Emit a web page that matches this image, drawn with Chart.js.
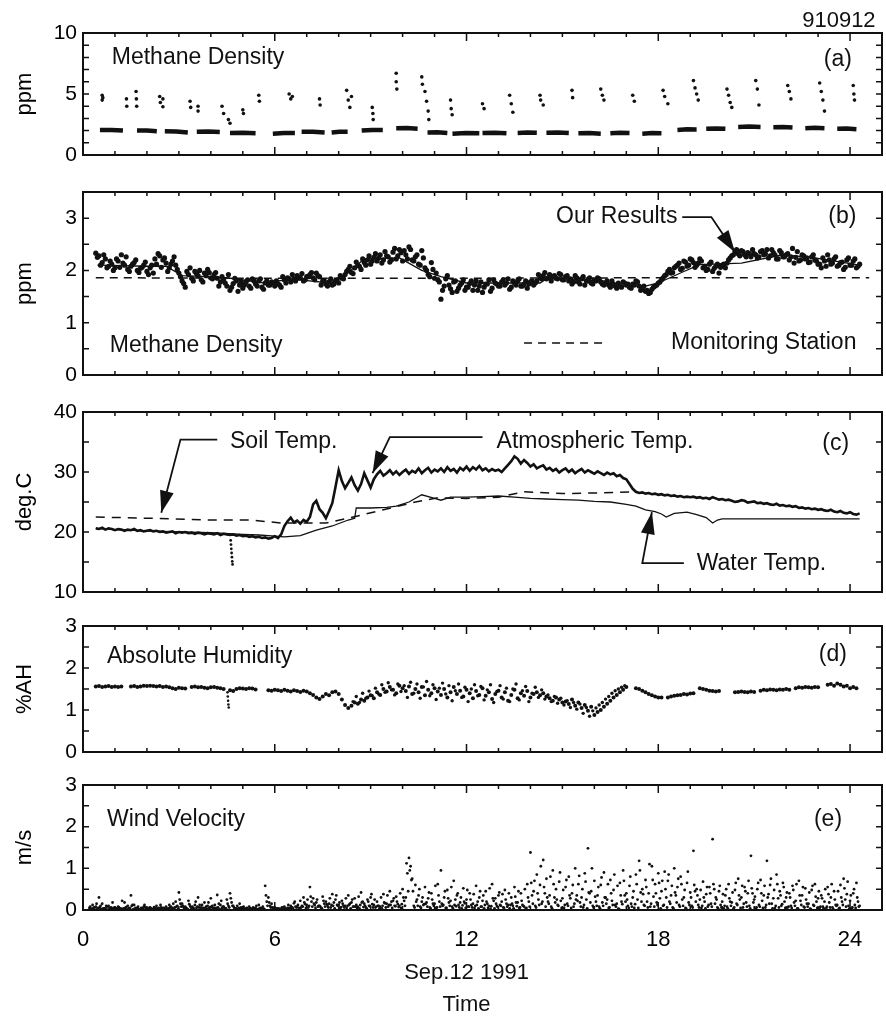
<!DOCTYPE html>
<html lang="en">
<head>
<meta charset="UTF-8">
<title>Methane Density - Sep.12 1991</title>
<script src="https://cdn.jsdelivr.net/npm/chart.js@4.4.1/dist/chart.umd.min.js"></script>
<style>
  body { margin: 0; background: #fff; }
  #wrap { position: relative; width: 886px; height: 1021px; }
  #wrap canvas { position: absolute; left: 0; top: 0; }
</style>
</head>
<body>
<div id="wrap">
  <canvas id="panelA" width="886" height="1021"></canvas>
  <canvas id="panelB" width="886" height="1021"></canvas>
  <canvas id="panelC" width="886" height="1021"></canvas>
  <canvas id="panelD" width="886" height="1021"></canvas>
  <canvas id="panelE" width="886" height="1021"></canvas>
</div>
<script>
// ===== data (time in hours of Sep.12 1991) =====
const hourTicks = [0, 6, 12, 18, 24];
const GRID_STEP = 0.1;   // sampling step of the gridded series, hours

// (a) raw methane: measuring dashes + calibration spikes
const dashStart = [0.53, 1.69, 2.56, 3.56, 4.6, 5.94, 6.84, 7.78, 8.72, 9.8, 10.78, 11.56, 12.5, 13.6, 14.5, 15.5, 16.5, 17.5, 18.6, 19.5, 20.5, 21.6, 22.6, 23.6];
const dashEnd   = [1.25, 2.31, 3.28, 4.28, 5.4, 6.63, 7.56, 8.28, 9.38, 10.47, 11.4, 12.4, 13.25, 14.2, 15.2, 16.2, 17.1, 18.1, 19.2, 20.1, 21.2, 22.2, 23.2, 24.2];
const dashFrom  = [2.05, 2.0, 1.95, 1.9, 1.8, 1.75, 1.9, 1.85, 2.0, 2.2, 1.85, 1.75, 1.8, 1.8, 1.82, 1.78, 1.78, 1.75, 2.05, 2.15, 2.3, 2.28, 2.2, 2.15];
const dashTo    = [2.0, 1.95, 1.85, 1.88, 1.78, 1.8, 1.85, 1.9, 2.05, 2.15, 1.8, 1.78, 1.78, 1.82, 1.8, 1.75, 1.8, 1.78, 2.1, 2.15, 2.3, 2.25, 2.2, 2.12];
const calTime = [0.6, 0.6, 0.62, 1.36, 1.37, 1.66, 1.67, 1.68, 2.4, 2.42, 2.5, 2.5, 3.35, 3.37, 3.6, 3.6,
  4.35, 4.4, 4.55, 4.6, 5.0, 5.02, 5.5, 5.52, 6.45, 6.5, 6.55, 7.4, 7.42, 8.25, 8.3, 8.35, 8.4,
  9.05, 9.07, 9.08, 9.8, 9.8, 9.82, 10.6, 10.62, 10.7, 10.75, 10.8, 10.82, 11.5, 11.52, 11.55,
  12.5, 12.55, 13.35, 13.4, 13.45, 14.3, 14.32, 14.4, 15.3, 15.32, 16.2, 16.25, 16.3, 17.2, 17.25,
  18.15, 18.2, 18.3, 19.1, 19.15, 19.2, 19.25, 20.15, 20.2, 20.25, 20.3, 21.05, 21.1, 21.15,
  22.05, 22.1, 22.15, 23.05, 23.1, 23.15, 23.2, 24.1, 24.12, 24.14];
const calPpm = [4.9, 4.5, 4.7, 4.6, 4.0, 5.2, 4.6, 4.0, 4.8, 4.3, 3.95, 4.6, 4.4, 3.9, 3.6, 4.0,
  4.0, 3.4, 2.9, 2.6, 3.7, 3.4, 4.9, 4.4, 5.0, 4.6, 4.8, 4.6, 4.1, 5.3, 4.5, 3.9, 4.8,
  3.9, 3.4, 2.9, 6.7, 6.0, 5.4, 6.4, 5.8, 5.2, 4.4, 3.6, 2.9, 4.5, 3.8, 3.3,
  4.2, 3.8, 4.9, 4.2, 3.5, 4.9, 4.5, 4.1, 5.3, 4.7, 5.4, 4.9, 4.5, 4.9, 4.4,
  5.3, 4.8, 4.2, 6.1, 5.5, 5.0, 4.5, 5.4, 4.9, 4.3, 3.9, 6.1, 5.4, 4.1,
  5.7, 5.2, 4.6, 5.9, 5.2, 4.5, 3.6, 5.7, 5.0, 4.5];

// (b) our results (two interleaved samples every 0.1 h), hourly trend, monitoring station
const methStart = 0.4;
const methPpm = [
  2.33, 2.28, 2.15, 2.22, 2.08, 2.12, 2.05,
  2.18, 2.30, 2.10, 2.02, 2.08, 2.15, 2.00, 2.04, 2.10, 1.98,
  2.05, 1.95, 2.12, 2.28, 2.20, 2.14, 2.05, 2.18, 2.10, 1.95,
  1.80, 1.68, 1.92, 1.85, 1.98, 1.90, 1.82, 1.95, 2.02, 1.86,
  1.92, 1.85, 1.78, 1.82, 1.70, 1.62, 1.75, 1.80, 1.72, 1.66,
  1.78, 1.70, 1.84, 1.74, 1.80, 1.68, 1.76, 1.72, 1.78, 1.70,
  1.75, 1.68, 1.82, 1.86, 1.78, 1.84, 1.90, 1.86, 1.80, 1.88,
  1.92, 1.86, 1.95, 1.88, 1.80, 1.74, 1.78, 1.72, 1.80, 1.76,
  1.85, 1.92, 2.02, 1.96, 2.05, 2.10, 2.02, 2.15, 2.20, 2.12,
  2.25, 2.18, 2.30, 2.20, 2.28, 2.16, 2.35, 2.22, 2.40, 2.18,
  2.30, 2.45, 2.20, 2.26, 2.12, 2.38, 2.05, 1.92, 2.15, 1.85,
  1.82, 1.45, 1.70, 1.90, 1.65, 1.78, 1.60, 1.72, 1.82, 1.68,
  1.75, 1.62, 1.80, 1.70, 1.58, 1.74, 1.82, 1.66, 1.76, 1.70,
  1.78, 1.72, 1.84, 1.68, 1.76, 1.80, 1.70, 1.74, 1.66, 1.78,
  1.72, 1.80, 1.86, 1.90, 1.84, 1.92, 1.88, 1.85, 1.94, 1.82,
  1.88, 1.80, 1.74, 1.90, 1.78, 1.84, 1.72, 1.80, 1.76, 1.82,
  1.86, 1.78, 1.72, 1.80, 1.68, 1.74, 1.66, 1.70, 1.78, 1.72,
  1.68, 1.74, 1.80, 1.70, 1.66, 1.60, 1.56, 1.64, 1.70, 1.76,
  1.82, 1.90, 1.98, 1.95, 2.05, 2.10, 2.02, 2.18, 2.08, 2.22,
  2.15, 2.10, 2.22, 2.05, 2.00, 2.12, 1.98, 2.08, 1.95, 2.10,
  2.05, 2.20, 2.28, 2.36, 2.32, 2.38, 2.30, 2.34, 2.26, 2.32,
  2.24, 2.36, 2.30, 2.40, 2.28, 2.34, 2.22, 2.38, 2.26, 2.30,
  2.20, 2.42, 2.25, 2.18, 2.30, 2.22, 2.15, 2.26, 2.20, 2.12,
  2.05, 2.18, 2.30, 2.12, 2.22, 2.08, 2.15, 2.02, 2.20, 2.10,
  2.18, 2.05, 2.12];
const methStart2 = 0.45;
const methPpm2 = [
  2.25, 2.10, 2.30, 2.05, 2.18, 2.00,
  2.22, 2.06, 2.14, 2.26, 1.98, 2.12, 2.20, 1.96, 2.06, 2.16,
  1.92, 2.10, 2.22, 2.32, 2.06, 2.24, 1.98, 2.12, 2.26, 2.02,
  1.88, 1.75, 1.98, 2.05, 1.80, 1.94, 2.00, 1.78, 1.90, 1.96,
  1.84, 1.96, 1.70, 1.88, 1.76, 1.92, 1.68, 1.85, 1.60, 1.78,
  1.72, 1.82, 1.66, 1.80, 1.70, 1.84, 1.64, 1.80, 1.72, 1.76,
  1.80, 1.72, 1.88, 1.76, 1.84, 1.92, 1.80, 1.86, 1.94, 1.82,
  1.88, 1.96, 1.82, 1.90, 1.72, 1.80, 1.70, 1.84, 1.74, 1.82,
  1.90, 1.84, 1.98, 2.08, 1.94, 2.16, 2.08, 2.22, 2.10, 2.28,
  2.18, 2.32, 2.24, 2.14, 2.36, 2.26, 2.20, 2.42, 2.28, 2.34,
  2.38, 2.22, 2.40, 2.18, 2.30, 2.10, 2.24, 2.00, 1.88, 2.02,
  1.95, 1.78, 1.62, 1.84, 1.72, 1.58, 1.80, 1.66, 1.76, 1.62,
  1.68, 1.80, 1.72, 1.62, 1.78, 1.68, 1.74, 1.60, 1.82, 1.74,
  1.70, 1.82, 1.76, 1.64, 1.80, 1.72, 1.84, 1.70, 1.80, 1.74,
  1.80, 1.76, 1.92, 1.84, 1.96, 1.86, 1.80, 1.90, 1.84, 1.92,
  1.82, 1.90, 1.84, 1.78, 1.86, 1.74, 1.88, 1.80, 1.86, 1.74,
  1.80, 1.84, 1.74, 1.76, 1.72, 1.80, 1.70, 1.76, 1.68, 1.76,
  1.74, 1.66, 1.72, 1.78, 1.62, 1.70, 1.62, 1.58, 1.68, 1.72,
  1.78, 1.86, 1.92, 2.02, 1.96, 2.08, 2.14, 2.04, 2.16, 2.10,
  2.20, 2.06, 2.14, 2.18, 2.08, 2.02, 2.16, 2.04, 2.12, 2.06,
  2.12, 2.14, 2.24, 2.30, 2.40, 2.28, 2.36, 2.26, 2.32, 2.40,
  2.30, 2.26, 2.38, 2.32, 2.24, 2.40, 2.30, 2.22, 2.34, 2.26,
  2.32, 2.26, 2.14, 2.36, 2.20, 2.28, 2.24, 2.16, 2.30, 2.18,
  2.12, 2.24, 2.08, 2.20, 2.14, 2.26, 2.10, 2.16, 2.06, 2.24,
  2.10, 2.22, 2.08];
const trendTime = [0.45, 2.0, 2.6, 3.1, 3.9, 4.5, 5.7, 6.0, 6.8, 7.7, 8.3, 8.8, 9.9, 10.6, 11.2, 12.0, 14.3, 14.6, 15.4, 16.3, 16.7, 17.6, 18.0, 18.8, 19.3, 20.6, 21.9, 22.9, 24.3];
const trendPpm  = [2.10, 2.08, 2.08, 1.90, 1.88, 1.86, 1.76, 1.80, 1.82, 1.76, 1.96, 2.22, 2.24, 2.00, 1.88, 1.76, 1.76, 1.88, 1.82, 1.80, 1.71, 1.70, 1.76, 1.98, 2.11, 2.14, 2.30, 2.24, 2.10];
const stationTime = [0.4, 6, 12, 18, 24.6];
const stationPpm  = [1.86, 1.85, 1.85, 1.86, 1.86];

// (c) temperatures
const atmStart = 0.4;
const atmTemp = [
  20.6, 20.5, 20.7, 20.4, 20.6, 20.5, 20.3,
  20.5, 20.4, 20.2, 20.4, 20.3, 20.5, 20.2, 20.3, 20.1, 20.2,
  20.3, 20.1, 20.2, 20.0, 20.1, 19.9, 20.0, 20.1, 19.8, 20.0,
  19.9, 20.0, 19.8, 19.9, 19.7, 19.9, 19.8, 19.6, 19.8, 19.7,
  19.6, 19.8, 19.5, 19.7, 19.6, 19.5, 19.6, 19.4, 19.5, 19.3,
  19.4, 19.2, 19.3, 19.1, 19.2, 19.0, 19.1, 18.9, 19.0, 19.3,
  19.0, 19.6, 21.0, 21.8, 22.4, 21.6, 21.9, 21.4, 22.0, 21.7,
  22.5, 24.6, 25.2, 23.8, 23.2, 22.3, 23.5, 24.8, 27.5, 30.3,
  28.5, 27.3, 28.2, 29.1, 27.8, 26.9, 28.0, 29.8, 28.6, 27.4,
  28.8, 29.6, 30.2, 29.4, 29.8, 30.3, 29.6, 30.1, 29.5, 30.0,
  30.4, 29.7, 30.2, 29.9, 30.6, 29.8, 30.3, 30.7, 29.9, 30.4,
  30.1, 30.6, 30.0, 30.8, 30.2, 30.5, 29.9, 30.7, 30.3, 30.9,
  30.2, 30.8, 30.4, 31.0, 30.3, 30.6, 30.1, 30.5, 30.2, 30.4,
  30.0, 30.6, 31.2, 31.8, 32.6, 32.2, 31.4, 32.0, 31.5, 30.9,
  31.3, 30.6, 30.9, 31.1, 30.4, 30.7, 30.2, 30.5, 29.9, 30.3,
  30.6, 30.0, 30.4, 29.8, 30.2, 30.5, 29.9, 30.3, 30.0, 29.7,
  30.1, 29.8, 29.5, 29.9, 29.6, 29.8, 29.3, 29.5, 29.0, 28.8,
  28.0, 27.2, 26.7, 26.5, 26.6, 26.4, 26.5, 26.3, 26.4, 26.2,
  26.3, 26.1, 26.2, 26.0, 26.1, 25.9, 26.0, 25.8, 25.9, 25.8,
  25.9, 25.7, 25.8, 25.6, 25.7, 25.5, 25.8, 25.6, 25.4, 25.5,
  25.3, 25.4, 25.2, 25.0, 25.1, 25.3, 25.2, 24.9, 25.0, 25.1,
  24.8, 24.9, 24.7, 24.8, 24.6, 24.5, 24.7, 24.4, 24.5, 24.3,
  24.4, 24.2, 24.3, 24.0, 24.1, 23.9, 24.0, 23.8, 23.9, 23.7,
  23.8, 23.6, 23.5, 23.7, 23.4, 23.3, 23.5, 23.2, 23.1, 23.3,
  23.0, 22.9, 23.1];
const atmSpikeTime = [4.62, 4.63, 4.64, 4.65, 4.66, 4.67, 4.68];
const atmSpikeTemp = [18.6, 17.9, 17.2, 16.5, 15.8, 15.1, 14.6];
const waterTime = [0.4, 1, 2, 3, 4, 5, 5.5, 6, 6.3, 6.8, 7.3, 7.8, 8.3, 8.5, 8.55, 9.0, 9.5, 9.8, 10.2, 10.6, 11.0, 11.2, 11.5, 12, 12.5, 13, 13.5, 14, 14.5, 15, 15.5, 16, 16.5, 17.0, 17.3, 17.6, 17.9, 18.1, 18.25, 18.5, 18.9, 19.2, 19.5, 19.7, 19.85, 20.0, 21, 22, 23, 24.3];
const waterTemp = [20.6, 20.4, 20.2, 20.0, 19.9, 19.6, 19.5, 19.3, 19.2, 19.4, 20.3, 21.0, 22.0, 22.3, 24.0, 24.0, 24.1, 24.3, 25.0, 26.2, 25.6, 25.3, 25.8, 25.8, 25.9, 26.0, 25.8, 25.6, 25.5, 25.4, 25.3, 25.1, 25.0, 24.6, 24.3, 23.7, 23.4, 23.0, 22.5, 23.1, 23.3, 22.9, 22.4, 21.5, 22.0, 22.2, 22.2, 22.2, 22.2, 22.2];
const soilTime = [0.4, 2, 4, 5.2, 6.2, 7.6, 8.3, 9.4, 10.4, 11.1, 12, 13, 13.8, 15, 16, 17.2];
const soilTemp = [22.5, 22.3, 22.0, 22.0, 21.5, 21.5, 22.3, 23.7, 25.0, 25.7, 25.6, 25.8, 26.7, 26.4, 26.5, 26.7];

// (d) absolute humidity (every 0.1 h from 0.4 h) + extra scatter 8.45-16.95 h
const humStart = 0.4;
const humidity = [
  1.56, 1.57, 1.55, 1.56, 1.57, 1.55, 1.56,
  1.55, 1.56, null, null, 1.56, 1.57, 1.55, 1.56, 1.58, 1.57,
  1.58, 1.57, 1.56, 1.57, 1.55, 1.56, 1.54, 1.52, 1.50, 1.53,
  1.52, 1.51, null, 1.55, 1.56, 1.54, 1.55, 1.53, 1.52, 1.54,
  1.55, 1.53, 1.52, 1.50, null, 1.47, 1.45, 1.50, 1.52, 1.51,
  1.50, 1.52, 1.51, 1.49, null, null, null, 1.47, 1.46, 1.48,
  1.47, 1.45, 1.48, 1.46, 1.44, 1.47, 1.45, 1.43, 1.46, 1.44,
  1.40, 1.36, 1.30, 1.26, 1.32, 1.38, 1.35, 1.42, 1.44, 1.38,
  1.25, 1.12, 1.05, 1.10, 1.18, 1.15, 1.25, 1.22, 1.30, 1.35,
  1.28, 1.42, 1.36, 1.50, 1.44, 1.55, 1.48, 1.40, 1.58, 1.52,
  1.45, 1.56, 1.38, 1.50, 1.42, 1.55, 1.35, 1.48, 1.40, 1.52,
  1.44, 1.36, 1.50, 1.30, 1.42, 1.55, 1.38, 1.46, 1.32, 1.48,
  1.40, 1.28, 1.45, 1.36, 1.52, 1.34, 1.42, 1.26, 1.38, 1.46,
  1.30, 1.42, 1.22, 1.36, 1.48, 1.28, 1.40, 1.34, 1.45, 1.30,
  1.38, 1.42, 1.35, 1.40, 1.32, 1.28, 1.22, 1.30, 1.25, 1.18,
  1.20, 1.14, 1.25, 1.10, 1.18, 1.05, 1.12, 0.98, 1.08, 0.88,
  0.95, 1.00, 1.08, 1.15, 1.22, 1.30, 1.36, 1.42, 1.48, 1.55,
  null, null, 1.52, 1.50, 1.46, 1.42, 1.38, 1.35, 1.32, 1.30,
  1.30, null, 1.30, 1.32, 1.34, 1.35, 1.36, 1.38, 1.37, 1.39,
  1.40, null, 1.52, 1.50, 1.48, 1.46, 1.45, 1.44, 1.45, null,
  null, null, null, 1.42, 1.43, 1.44, 1.43, 1.42, 1.44, 1.43,
  null, 1.46, 1.48, 1.47, 1.49, 1.48, 1.47, 1.49, 1.48, 1.50,
  1.48, null, 1.52, 1.54, 1.53, 1.55, 1.54, 1.53, 1.55, 1.54,
  null, null, 1.60, 1.62, 1.58, 1.63, 1.60, 1.56, 1.58, 1.52,
  1.55, 1.52, null];
const humSpreadStart = 8.45;
const humiditySpread = [
  1.20, 1.32, 1.18, 1.40, 1.28, 1.45, 1.34, 1.52, 1.38, 1.60,
  1.42, 1.65, 1.48, 1.36, 1.62, 1.44, 1.58, 1.30, 1.66, 1.40,
  1.62, 1.28, 1.55, 1.68, 1.34, 1.60, 1.25, 1.52, 1.64, 1.38,
  1.58, 1.22, 1.46, 1.62, 1.30, 1.54, 1.20, 1.50, 1.60, 1.34,
  1.56, 1.24, 1.48, 1.60, 1.18, 1.44, 1.58, 1.26, 1.52, 1.20,
  1.50, 1.62, 1.24, 1.46, 1.56, 1.20, 1.40, 1.54, 1.30, 1.48,
  1.26, 1.36, 1.20, 1.32, 1.16, 1.28, 1.12, 1.22, 1.06, 1.18,
  1.02, 1.14, 0.92, 1.06, 0.85, 0.98, 1.05, 1.12, 1.18, 1.26,
  1.32, 1.40, 1.46, 1.50, 1.54, 1.58];
const humDipTime = [4.52, 4.53, 4.54, 4.55, 4.56];
const humDipValue = [1.42, 1.32, 1.22, 1.13, 1.06];

// (e) wind velocity, four interleaved samples (starts 0.2, 0.225, 0.25, 0.275 h, each every 0.1 h)
const windStartA = 0.2;
const windA = [
  0.05, 0.12, 0.08, 0.30, 0.15, 0.04, 0.10, 0.02, 0.06,
  0.08, 0.03, 0.18, 0.10, 0.35, 0.12, 0.05, 0.02, 0.08, 0.04,
  0.06, 0.02, 0.10, 0.04, 0.03, 0.08, 0.12, 0.05, 0.20, 0.42,
  0.15, 0.08, 0.22, 0.05, 0.12, 0.30, 0.06, 0.18, 0.10, 0.28,
  0.05, 0.36, 0.12, 0.08, 0.25, 0.40, 0.10, 0.04, 0.15, 0.06,
  0.03, 0.08, 0.02, 0.05, 0.12, 0.04, 0.58, 0.30, 0.15, 0.06,
  0.04, 0.02, 0.08, 0.05, 0.10, 0.16, 0.08, 0.22, 0.30, 0.12,
  0.55, 0.28, 0.18, 0.10, 0.32, 0.20, 0.15, 0.38, 0.25, 0.12,
  0.22, 0.10, 0.35, 0.18, 0.28, 0.08, 0.42, 0.15, 0.25, 0.30,
  0.12, 0.20, 0.08, 0.38, 0.15, 0.45, 0.22, 0.32, 0.10, 0.50,
  0.30, 1.25, 0.75, 0.60, 0.35, 0.20, 0.55, 0.28, 0.40, 0.15,
  0.62, 0.95, 0.30, 0.48, 0.22, 0.70, 0.35, 0.18, 0.52, 0.25,
  0.40, 0.15, 0.58, 0.30, 0.22, 0.45, 0.10, 0.62, 0.28, 0.35,
  0.20, 0.48, 0.12, 0.30, 0.55, 0.18, 0.40, 0.08, 0.62, 1.38,
  0.45, 0.85, 0.60, 1.20, 0.75, 0.35, 0.95, 0.50, 0.68, 0.28,
  0.55, 0.80, 0.40, 1.00, 0.62, 0.30, 0.88, 1.48, 0.45, 0.70,
  0.35, 0.60, 0.90, 0.25, 0.72, 0.48, 0.15, 0.65, 0.95, 0.40,
  0.58, 0.30, 0.85, 1.18, 0.50, 0.72, 0.40, 1.05, 0.62, 0.88,
  0.45, 0.92, 0.70, 0.35, 1.00, 0.55, 0.80, 0.30, 0.65, 0.42,
  1.42, 0.50, 0.25, 0.68, 0.38, 0.55, 1.70, 0.30, 0.45, 0.20,
  0.35, 0.62, 0.18, 0.48, 0.75, 0.30, 0.55, 0.40, 1.30, 0.25,
  0.50, 0.72, 0.35, 1.18, 0.60, 0.28, 0.85, 0.45, 0.65, 0.30,
  0.40, 0.58, 0.22, 0.70, 0.35, 0.52, 0.15, 0.48, 0.62, 0.28,
  0.35, 0.20, 0.55, 0.30, 0.45, 0.12, 0.60, 0.75, 0.38, 0.22,
  0.40, 0.65, 0.10];
const windStartB = 0.25;
const windB = [
  0.02, 0.06, 0.03, 0.10, 0.04, 0.08, 0.02, 0.05, 0.03,
  0.04, 0.02, 0.07, 0.03, 0.12, 0.05, 0.02, 0.04, 0.06, 0.02,
  0.03, 0.05, 0.02, 0.06, 0.04, 0.02, 0.08, 0.03, 0.10, 0.15,
  0.06, 0.03, 0.10, 0.04, 0.05, 0.12, 0.03, 0.08, 0.05, 0.10,
  0.03, 0.15, 0.05, 0.03, 0.10, 0.18, 0.04, 0.02, 0.06, 0.03,
  0.02, 0.04, 0.03, 0.02, 0.05, 0.03, 0.20, 0.10, 0.05, 0.03,
  0.03, 0.05, 0.02, 0.04, 0.06, 0.08, 0.05, 0.10, 0.14, 0.06,
  0.20, 0.12, 0.08, 0.05, 0.15, 0.10, 0.06, 0.18, 0.12, 0.05,
  0.10, 0.05, 0.15, 0.08, 0.12, 0.04, 0.20, 0.06, 0.10, 0.14,
  0.06, 0.10, 0.04, 0.16, 0.08, 0.20, 0.10, 0.14, 0.05, 0.22,
  0.88, 1.05, 0.10, 0.25, 0.08, 0.12, 0.18, 0.06, 0.15, 0.05,
  0.20, 0.10, 0.05, 0.18, 0.08, 0.25, 0.12, 0.04, 0.16, 0.08,
  0.12, 0.05, 0.20, 0.08, 0.04, 0.15, 0.03, 0.22, 0.10, 0.12,
  0.06, 0.15, 0.04, 0.10, 0.18, 0.05, 0.12, 0.03, 0.20, 0.35,
  0.10, 0.25, 0.15, 0.40, 0.20, 0.08, 0.30, 0.12, 0.22, 0.05,
  0.15, 0.28, 0.08, 0.35, 0.18, 0.06, 0.25, 0.40, 0.10, 0.20,
  0.08, 0.18, 0.30, 0.05, 0.22, 0.12, 0.03, 0.20, 0.35, 0.10,
  0.15, 0.05, 0.25, 0.42, 0.12, 0.20, 0.08, 0.32, 0.18, 0.28,
  0.10, 0.30, 0.20, 0.06, 0.35, 0.12, 0.25, 0.05, 0.18, 0.10,
  0.45, 0.12, 0.05, 0.20, 0.08, 0.15, 0.50, 0.06, 0.12, 0.04,
  0.08, 0.20, 0.03, 0.15, 0.25, 0.06, 0.18, 0.10, 0.40, 0.05,
  0.12, 0.22, 0.06, 0.38, 0.15, 0.05, 0.28, 0.10, 0.20, 0.06,
  0.10, 0.18, 0.04, 0.22, 0.08, 0.15, 0.03, 0.12, 0.20, 0.05,
  0.08, 0.04, 0.18, 0.06, 0.12, 0.03, 0.20, 0.25, 0.10, 0.05,
  0.12, 0.20];
const windStartC = 0.225;
const windC = [
  0.08, 0.04, 0.15, 0.06, 0.03, 0.10, 0.05, 0.18, 0.04,
  0.06, 0.22, 0.05, 0.04, 0.10, 0.03, 0.08, 0.05, 0.12, 0.04,
  0.03, 0.07, 0.04, 0.12, 0.05, 0.03, 0.06, 0.15, 0.08, 0.25,
  0.10, 0.05, 0.14, 0.08, 0.20, 0.06, 0.12, 0.04, 0.18, 0.08,
  0.12, 0.06, 0.22, 0.05, 0.15, 0.28, 0.06, 0.10, 0.04, 0.08,
  0.05, 0.03, 0.06, 0.10, 0.04, 0.08, 0.35, 0.18, 0.06, 0.04,
  0.02, 0.06, 0.04, 0.12, 0.05, 0.20, 0.12, 0.06, 0.18, 0.25,
  0.32, 0.15, 0.25, 0.08, 0.22, 0.14, 0.28, 0.10, 0.35, 0.18,
  0.15, 0.28, 0.12, 0.25, 0.08, 0.32, 0.18, 0.10, 0.20, 0.38,
  0.25, 0.10, 0.30, 0.18, 0.35, 0.12, 0.28, 0.20, 0.40, 0.30,
  1.12, 0.95, 0.45, 0.20, 0.50, 0.30, 0.15, 0.42, 0.25, 0.58,
  0.35, 0.15, 0.45, 0.28, 0.55, 0.12, 0.40, 0.30, 0.20, 0.48,
  0.25, 0.38, 0.12, 0.45, 0.35, 0.20, 0.52, 0.28, 0.15, 0.42,
  0.38, 0.25, 0.40, 0.15, 0.32, 0.45, 0.22, 0.50, 0.30, 0.65,
  0.70, 0.40, 1.05, 0.55, 0.30, 0.80, 0.62, 0.25, 0.90, 0.48,
  0.72, 0.35, 0.60, 0.25, 0.82, 0.50, 0.68, 0.42, 1.00, 0.32,
  0.55, 0.78, 0.30, 0.62, 0.40, 0.85, 0.58, 0.35, 0.70, 0.25,
  0.80, 0.45, 0.62, 0.95, 0.38, 0.55, 1.10, 0.72, 0.40, 0.65,
  0.70, 0.50, 0.85, 0.58, 0.42, 0.75, 0.62, 0.48, 0.92, 0.30,
  0.60, 0.35, 0.48, 0.30, 0.55, 0.40, 0.62, 0.25, 0.58, 0.38,
  0.50, 0.28, 0.42, 0.65, 0.35, 0.58, 0.45, 0.70, 0.52, 0.32,
  0.65, 0.40, 0.58, 0.30, 0.75, 0.48, 0.62, 0.35, 0.55, 0.42,
  0.30, 0.48, 0.62, 0.35, 0.55, 0.25, 0.42, 0.58, 0.32, 0.45,
  0.28, 0.50, 0.38, 0.62, 0.25, 0.45, 0.30, 0.52, 0.68, 0.35,
  0.50, 0.30];
const windStartD = 0.275;
const windD = [
  0.03, 0.01, 0.05, 0.02, 0.04, 0.01, 0.06, 0.02, 0.03,
  0.02, 0.04, 0.01, 0.05, 0.02, 0.03, 0.01, 0.04, 0.02, 0.05,
  0.01, 0.03, 0.05, 0.02, 0.01, 0.04, 0.02, 0.06, 0.03, 0.08,
  0.04, 0.02, 0.06, 0.03, 0.08, 0.02, 0.05, 0.03, 0.07, 0.04,
  0.05, 0.02, 0.08, 0.04, 0.06, 0.10, 0.02, 0.05, 0.03, 0.02,
  0.01, 0.02, 0.04, 0.01, 0.03, 0.02, 0.10, 0.06, 0.03, 0.02,
  0.01, 0.03, 0.02, 0.05, 0.03, 0.06, 0.04, 0.08, 0.05, 0.10,
  0.08, 0.05, 0.10, 0.04, 0.08, 0.06, 0.12, 0.04, 0.10, 0.07,
  0.06, 0.10, 0.04, 0.08, 0.05, 0.12, 0.07, 0.04, 0.09, 0.06,
  0.08, 0.04, 0.10, 0.06, 0.12, 0.05, 0.09, 0.07, 0.14, 0.10,
  0.45, 0.72, 0.06, 0.10, 0.05, 0.14, 0.08, 0.04, 0.10, 0.06,
  0.08, 0.12, 0.05, 0.10, 0.04, 0.09, 0.06, 0.11, 0.05, 0.08,
  0.06, 0.10, 0.04, 0.08, 0.12, 0.05, 0.09, 0.04, 0.07, 0.10,
  0.05, 0.08, 0.12, 0.04, 0.09, 0.06, 0.10, 0.05, 0.08, 0.15,
  0.06, 0.12, 0.20, 0.08, 0.15, 0.04, 0.18, 0.10, 0.05, 0.12,
  0.10, 0.05, 0.15, 0.22, 0.08, 0.12, 0.04, 0.18, 0.06, 0.10,
  0.04, 0.10, 0.15, 0.06, 0.12, 0.08, 0.02, 0.14, 0.20, 0.05,
  0.08, 0.14, 0.05, 0.20, 0.10, 0.06, 0.15, 0.08, 0.12, 0.04,
  0.12, 0.06, 0.15, 0.04, 0.18, 0.08, 0.10, 0.03, 0.12, 0.06,
  0.20, 0.06, 0.10, 0.04, 0.12, 0.08, 0.15, 0.03, 0.06, 0.10,
  0.04, 0.10, 0.06, 0.12, 0.05, 0.15, 0.08, 0.04, 0.18, 0.06,
  0.08, 0.05, 0.12, 0.15, 0.04, 0.10, 0.06, 0.14, 0.05, 0.08,
  0.05, 0.10, 0.03, 0.12, 0.06, 0.08, 0.02, 0.10, 0.05, 0.08,
  0.04, 0.08, 0.06, 0.02, 0.10, 0.05, 0.12, 0.08, 0.03, 0.06,
  0.05, 0.08];

// ===== helpers =====
const W = 886, H = 1021;
const INK = '#111';
const FONT = '"Liberation Sans", Arial, Helvetica, sans-serif';
Chart.defaults.font.family = FONT;
Chart.defaults.color = '#000';

function gridPoints(start, values) {
  return values.map((v, i) => ({ x: Math.round((start + i * GRID_STEP) * 1000) / 1000, y: v }));
}
function pairPoints(xs, ys) {
  return xs.map((x, i) => ({ x: x, y: ys[i] }));
}
function dashPoints() {
  const pts = [];
  dashStart.forEach((s, i) => {
    pts.push({ x: s, y: dashFrom[i] }, { x: (s + dashEnd[i]) / 2, y: (dashFrom[i] + dashTo[i]) / 2 + 0.03 },
             { x: dashEnd[i], y: dashTo[i] }, { x: dashEnd[i] + 0.01, y: null });
  });
  return pts;
}
function dots(data, r) {
  return { data: data, showLine: false, pointRadius: r, pointBackgroundColor: INK, pointBorderWidth: 0 };
}
function line(data, w, dash) {
  return { data: data, showLine: true, pointRadius: 0, borderColor: INK, borderWidth: w,
           borderDash: dash || [], spanGaps: false, tension: 0 };
}

// frame with inward ticks, labels and arrows
const framePlugin = {
  id: 'frame',
  afterDraw(chart, args, opts) {
    const { ctx, chartArea: a, scales: { x, y } } = chart;
    ctx.save();
    ctx.strokeStyle = INK;
    ctx.fillStyle = INK;
    ctx.lineWidth = 2;
    ctx.strokeRect(a.left, a.top, a.right - a.left, a.bottom - a.top);
    ctx.lineWidth = 1.5;
    ctx.beginPath();
    for (let h = 1; h < 25; h++) {
      const px = x.getPixelForValue(h);
      const len = h % 6 === 0 ? 8 : 4;
      ctx.moveTo(px, a.top); ctx.lineTo(px, a.top + len);
      ctx.moveTo(px, a.bottom); ctx.lineTo(px, a.bottom - len);
    }
    const n = Math.round((y.max - y.min) / opts.minor);
    for (let k = 1; k < n; k++) {
      const py = y.getPixelForValue(y.min + k * opts.minor);
      ctx.moveTo(a.left, py); ctx.lineTo(a.left + 6, py);
      ctx.moveTo(a.right, py); ctx.lineTo(a.right - 6, py);
    }
    ctx.stroke();

    ctx.textBaseline = 'middle';
    (opts.texts || []).forEach(t => {
      ctx.font = (t.size || 23) + 'px ' + FONT;
      ctx.textAlign = t.align || 'left';
      ctx.fillText(t.text, x.getPixelForValue(t.x), y.getPixelForValue(t.y));
    });
    (opts.lines || []).forEach(l => {
      ctx.lineWidth = 1.5;
      ctx.setLineDash(l.dash);
      ctx.beginPath();
      ctx.moveTo(x.getPixelForValue(l.from[0]), y.getPixelForValue(l.from[1]));
      ctx.lineTo(x.getPixelForValue(l.to[0]), y.getPixelForValue(l.to[1]));
      ctx.stroke();
      ctx.setLineDash([]);
    });
    (opts.arrows || []).forEach(ar => {
      const pts = ar.map(p => [x.getPixelForValue(p[0]), y.getPixelForValue(p[1])]);
      ctx.lineWidth = 1.8;
      ctx.beginPath();
      ctx.moveTo(pts[0][0], pts[0][1]);
      pts.slice(1).forEach(p => ctx.lineTo(p[0], p[1]));
      ctx.stroke();
      const [tx, ty] = pts[pts.length - 1];
      const [px, py] = pts[pts.length - 2];
      const ang = Math.atan2(ty - py, tx - px);
      const L = 22, hw = 7, c = Math.cos(ang), s = Math.sin(ang);
      ctx.beginPath();
      ctx.moveTo(tx, ty);
      ctx.lineTo(tx - L * c + hw * s, ty - L * s - hw * c);
      ctx.lineTo(tx - L * c - hw * s, ty - L * s + hw * c);
      ctx.closePath();
      ctx.fill();
    });
    ctx.restore();
  }
};

function makePanel(id, cfg) {
  const showX = !!cfg.showX;
  return new Chart(document.getElementById(id), {
    type: 'scatter',
    data: { datasets: cfg.datasets },
    options: {
      responsive: false,
      animation: false,
      devicePixelRatio: 1,
      events: [],
      layout: { padding: { left: 0, right: W - 883, top: cfg.top, bottom: showX ? 0 : H - cfg.bottom } },
      scales: {
        x: {
          type: 'linear', min: 0, max: 25, display: showX,
          afterBuildTicks: s => { s.ticks = hourTicks.map(v => ({ value: v })); },
          afterFit: s => { s.height = showX ? H - cfg.bottom : 0; },
          ticks: { padding: 17, font: { size: 22 }, color: '#000' },
          grid: { display: false, drawTicks: false },
          border: { display: false }
        },
        y: {
          min: cfg.yMin, max: cfg.yMax,
          afterBuildTicks: s => { s.ticks = cfg.yTicks.map(v => ({ value: v })); },
          afterFit: s => { s.width = 83; },
          ticks: { padding: 6, font: { size: 21 }, color: '#000' },
          grid: { display: false, drawTicks: false },
          border: { display: false },
          title: { display: true, text: cfg.yTitle, font: { size: 22 }, color: '#000', padding: { top: 12, bottom: 0 } }
        }
      },
      plugins: {
        legend: { display: false },
        tooltip: { enabled: false },
        frame: { minor: cfg.minor, texts: cfg.texts, arrows: cfg.arrows, lines: cfg.lines }
      }
    },
    plugins: [framePlugin]
  });
}

// ===== panels =====
makePanel('panelA', {
  top: 33, bottom: 155, yMin: 0, yMax: 10, yTicks: [0, 5, 10], minor: 1, yTitle: 'ppm',
  datasets: [line(dashPoints(), 4.5), dots(pairPoints(calTime, calPpm), 1.8)],
  texts: [
    { text: 'Methane Density', x: 0.9, y: 8.0 },
    { text: '(a)', x: 24.06, y: 7.8, align: 'right' },
    { text: '910912', x: 24.8, y: 11.0, align: 'right', size: 22 }
  ]
});

makePanel('panelB', {
  top: 192, bottom: 375, yMin: 0, yMax: 3.5, yTicks: [0, 1, 2, 3], minor: 0.5, yTitle: 'ppm',
  datasets: [
    dots(gridPoints(methStart, methPpm), 2.6),
    dots(gridPoints(methStart2, methPpm2), 2.6),
    line(pairPoints(trendTime, trendPpm), 1.3),
    line(pairPoints(stationTime, stationPpm), 1.5, [8, 6])
  ],
  texts: [
    { text: 'Our Results', x: 18.6, y: 3.02, align: 'right' },
    { text: '(b)', x: 24.2, y: 3.02, align: 'right' },
    { text: 'Methane Density', x: 0.84, y: 0.57 },
    { text: 'Monitoring Station', x: 24.2, y: 0.61, align: 'right' }
  ],
  lines: [{ from: [13.8, 0.61], to: [16.4, 0.61], dash: [8, 6] }],
  arrows: [[[18.75, 3.02], [19.66, 3.02], [20.4, 2.35]]]
});

makePanel('panelC', {
  top: 412, bottom: 592, yMin: 10, yMax: 40, yTicks: [10, 20, 30, 40], minor: 5, yTitle: 'deg.C',
  datasets: [
    line(gridPoints(atmStart, atmTemp), 2.6),
    dots(pairPoints(atmSpikeTime, atmSpikeTemp), 1.4),
    line(pairPoints(waterTime, waterTemp), 1.3),
    line(pairPoints(soilTime, soilTemp), 1.5, [9, 7])
  ],
  texts: [
    { text: 'Soil Temp.', x: 4.6, y: 35 },
    { text: 'Atmospheric Temp.', x: 12.94, y: 35 },
    { text: '(c)', x: 23.97, y: 34.8, align: 'right' },
    { text: 'Water Temp.', x: 19.2, y: 14.8 }
  ],
  arrows: [
    [[4.2, 35.4], [3.05, 35.4], [2.45, 23.2]],
    [[12.5, 35.8], [9.6, 35.8], [9.06, 29.8]],
    [[18.8, 14.8], [17.5, 14.8], [17.8, 23.3]]
  ]
});

makePanel('panelD', {
  top: 626, bottom: 752, yMin: 0, yMax: 3, yTicks: [0, 1, 2, 3], minor: 0.5, yTitle: '%AH',
  datasets: [
    dots(gridPoints(humStart, humidity), 2),
    dots(gridPoints(humSpreadStart, humiditySpread), 1.7),
    dots(pairPoints(humDipTime, humDipValue), 1.3)
  ],
  texts: [
    { text: 'Absolute Humidity', x: 0.75, y: 2.26 },
    { text: '(d)', x: 23.9, y: 2.31, align: 'right' }
  ]
});

makePanel('panelE', {
  top: 785, bottom: 910, yMin: 0, yMax: 3, yTicks: [0, 1, 2, 3], minor: 0.5, yTitle: 'm/s', showX: true,
  datasets: [
    dots(gridPoints(windStartA, windA), 1.4),
    dots(gridPoints(windStartB, windB), 1.4),
    dots(gridPoints(windStartC, windC), 1.4),
    dots(gridPoints(windStartD, windD), 1.4)
  ],
  texts: [
    { text: 'Wind Velocity', x: 0.75, y: 2.16 },
    { text: '(e)', x: 23.75, y: 2.16, align: 'right' },
    { text: 'Sep.12 1991', x: 12, y: -1.5, align: 'center', size: 22 },
    { text: 'Time', x: 12, y: -2.28, align: 'center', size: 22 }
  ]
});
</script>
</body>
</html>
